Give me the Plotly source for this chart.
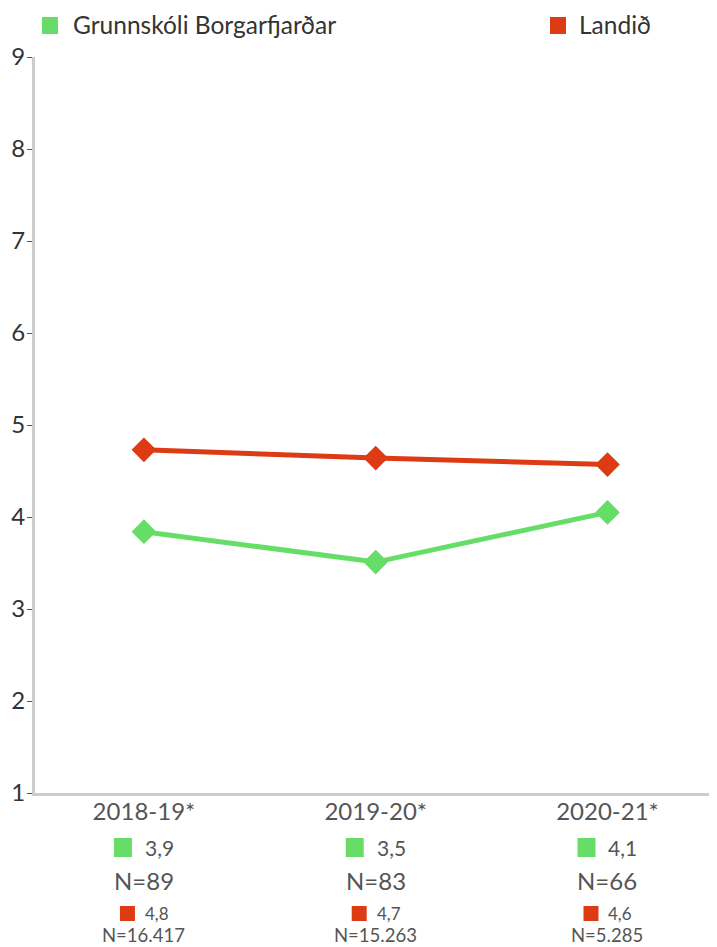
import plotly.graph_objects as go

# ---- data ----
periods = ["2018-19*", "2019-20*", "2020-21*"]
school_name = "Grunnskóli Borgarfjarðar"
land_name = "Landið"
school_values = [3.84, 3.51, 4.05]      # plotted positions
land_values = [4.73, 4.64, 4.57]
school_avg = [3.9, 3.5, 4.1]            # printed averages
school_n = [89, 83, 66]
land_avg = [4.8, 4.7, 4.6]
land_n = [16417, 15263, 5285]
y_ticks = [1, 2, 3, 4, 5, 6, 7, 8, 9]

GREEN = "#66DD66"
RED = "#DD3B14"
FONT = "Lato, 'Open Sans', sans-serif"

def dec(v):
    return f"{v:.1f}".replace(".", ",")

def thou(n):
    return f"{n:,}".replace(",", ".")

xs = list(range(len(periods)))

fig = go.Figure()
fig.add_trace(go.Scatter(x=xs, y=school_values, mode="lines+markers", name=school_name,
                         line=dict(color=GREEN, width=5),
                         marker=dict(symbol="diamond", size=19, color=GREEN),
                         showlegend=False, cliponaxis=False))
fig.add_trace(go.Scatter(x=xs, y=land_values, mode="lines+markers", name=land_name,
                         line=dict(color=RED, width=5),
                         marker=dict(symbol="diamond", size=19, color=RED),
                         showlegend=False, cliponaxis=False))

shapes = []
annotations = []

# top legend
for (name, color, sx0, tx) in [(school_name, GREEN, 7, 36), (land_name, RED, 515, 542)]:
    shapes.append(dict(type="rect", xref="paper", yref="paper",
                       xsizemode="pixel", ysizemode="pixel", xanchor=0, yanchor=1,
                       x0=sx0, x1=sx0 + 16, y0=23, y1=40,
                       fillcolor=color, line=dict(width=0)))
    annotations.append(dict(text=name, xref="paper", yref="paper", x=0, y=1,
                            xanchor="left", yanchor="middle", xshift=tx, yshift=33,
                            showarrow=False, font=dict(family=FONT, size=24.5, color="#333333")))

# bottom per-period info
for i in xs:
    shapes.append(dict(type="rect", xref="x", yref="paper",
                       xsizemode="pixel", ysizemode="pixel", xanchor=i, yanchor=0,
                       x0=-30, x1=-12, y0=-64, y1=-45,
                       fillcolor=GREEN, line=dict(width=0)))
    shapes.append(dict(type="rect", xref="x", yref="paper",
                       xsizemode="pixel", ysizemode="pixel", xanchor=i, yanchor=0,
                       x0=-24, x1=-9, y0=-128, y1=-113,
                       fillcolor=RED, line=dict(width=0)))
    annotations.append(dict(text=dec(school_avg[i]), xref="x", yref="paper", x=i, y=0,
                            xanchor="left", yanchor="middle", xshift=-1, yshift=-54,
                            showarrow=False, font=dict(family=FONT, size=21, color="#555555")))
    annotations.append(dict(text=f"N={school_n[i]}", xref="x", yref="paper", x=i, y=0,
                            xanchor="center", yanchor="middle", yshift=-87,
                            showarrow=False, font=dict(family=FONT, size=24, color="#555555")))
    annotations.append(dict(text=dec(land_avg[i]), xref="x", yref="paper", x=i, y=0,
                            xanchor="left", yanchor="middle", xshift=-1, yshift=-120,
                            showarrow=False, font=dict(family=FONT, size=17, color="#555555")))
    annotations.append(dict(text=f"N={thou(land_n[i])}", xref="x", yref="paper", x=i, y=0,
                            xanchor="center", yanchor="middle", yshift=-142,
                            showarrow=False, font=dict(family=FONT, size=18.5, color="#555555")))

fig.update_layout(
    width=709, height=939,
    margin=dict(l=27, r=0, t=49, b=154),
    paper_bgcolor="white", plot_bgcolor="white",
    font=dict(family=FONT),
    shapes=shapes, annotations=annotations,
    xaxis=dict(range=[-0.47, 2.4725], tickvals=xs, ticktext=periods,
               showgrid=False, zeroline=False, showline=True, linecolor="#cccccc", linewidth=3,
               ticks="", ticklabelstandoff=-5,
               tickfont=dict(family=FONT, size=24, color="#555555"), fixedrange=True),
    yaxis=dict(range=[1, 9], tickvals=y_ticks, showgrid=False, zeroline=False,
               showline=True, linecolor="#cccccc", linewidth=3,
               ticks="outside", ticklen=5, tickcolor="#555555", tickwidth=1,
               ticklabelstandoff=-3,
               tickfont=dict(family=FONT, size=24, color="#333333"), fixedrange=True),
)

fig.write_html("out.html")
